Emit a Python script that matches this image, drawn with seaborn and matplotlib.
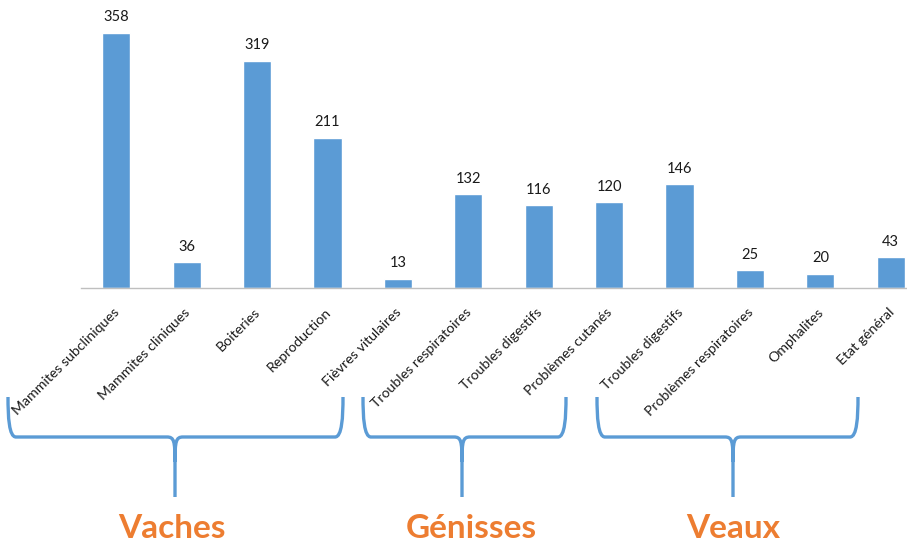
import matplotlib
matplotlib.use("Agg")
import matplotlib.pyplot as plt
import matplotlib.transforms as mtransforms
import seaborn as sns
import pandas as pd
from matplotlib.path import Path
from matplotlib.patches import PathPatch

# Données du graphique
categories = ["Mammites subcliniques", "Mammites cliniques", "Boiteries", "Reproduction",
              "Fièvres vitulaires", "Troubles respiratoires", "Troubles digestifs",
              "Problèmes cutanés", "Troubles digestifs", "Problèmes respiratoires",
              "Omphalites", "Etat général"]
valeurs = [358, 36, 319, 211, 13, 132, 116, 120, 146, 25, 20, 43]
groupes = ["Vaches", "Génisses", "Veaux"]

bleu = "#5B9BD5"
orange = "#ED7D31"

sns.set_theme(style="white")
plt.rcParams['font.family'] = ['Lato', 'DejaVu Sans']

df = pd.DataFrame({"pos": range(len(valeurs)), "valeur": valeurs})

fig = plt.figure(figsize=(9.07, 5.58), dpi=100)
W, H = 907, 558
ax = fig.add_axes([81 / W, (H - 288) / H, 845 / W, 288 / H])

sns.barplot(data=df, x="pos", y="valeur", color=bleu, width=0.4, saturation=1, ax=ax)
ax.set_ylim(0, 404)
ax.set_xlim(-0.5, len(valeurs) - 0.5)
ax.set_xlabel("")
ax.set_ylabel("")
ax.set_yticks([])
for s in ["top", "right", "left"]:
    ax.spines[s].set_visible(False)
ax.spines["bottom"].set_color("#BFBFBF")
ax.spines["bottom"].set_linewidth(1)

ax.set_xticks(range(len(categories)))
ax.set_xticklabels(categories, rotation=45, ha="right", rotation_mode="anchor",
                   fontsize=10.2, color="#1a1a1a")
ax.tick_params(axis="x", length=0, pad=13)
decal = mtransforms.ScaledTranslation(-3 / 100, 0, fig.dpi_scale_trans)
for lab in ax.get_xticklabels():
    lab.set_transform(lab.get_transform() + decal)

for i, v in enumerate(valeurs):
    ax.annotate(str(v), (i, v), xytext=(0, 6), textcoords="offset points",
                ha="center", va="bottom", fontsize=10.5, color="#1a1a1a")

# Accolades sous les étiquettes (coordonnées pixel de la figure)
ov = fig.add_axes([0, 0, 1, 1], zorder=-1)
ov.set_xlim(0, W)
ov.set_ylim(H, 0)
ov.axis("off")


def accolade(x0, x1, xm, ytop=397, ymid=437, ybot=497):
    r = 8
    verts = [(x0, ytop), (x0, ymid - 20), (x0 + 1, ymid), (x0 + r, ymid),
             (xm - r, ymid), (xm - 1, ymid), (xm, ymid + 4), (xm, ymid + 25),
             (xm, ybot),
             (xm, ymid + 25), (xm, ymid + 4), (xm + 1, ymid), (xm + r, ymid),
             (x1 - r, ymid), (x1 - 1, ymid), (x1, ymid - 20), (x1, ytop)]
    codes = [Path.MOVETO, Path.CURVE4, Path.CURVE4, Path.CURVE4,
             Path.LINETO, Path.CURVE4, Path.CURVE4, Path.CURVE4,
             Path.LINETO,
             Path.MOVETO, Path.CURVE4, Path.CURVE4, Path.CURVE4,
             Path.LINETO, Path.CURVE4, Path.CURVE4, Path.CURVE4]
    ov.add_patch(PathPatch(Path(verts, codes), fill=False, edgecolor=bleu, lw=2.4))


accolade(8, 343, 175)
accolade(363, 566, 462)
accolade(597, 858, 733)

for g, xc in zip(groupes, [172, 471, 733]):
    ov.text(xc, 528, g, ha="center", va="center", fontsize=24, fontweight="bold", color=orange)

fig.savefig("out.png", dpi=100)
